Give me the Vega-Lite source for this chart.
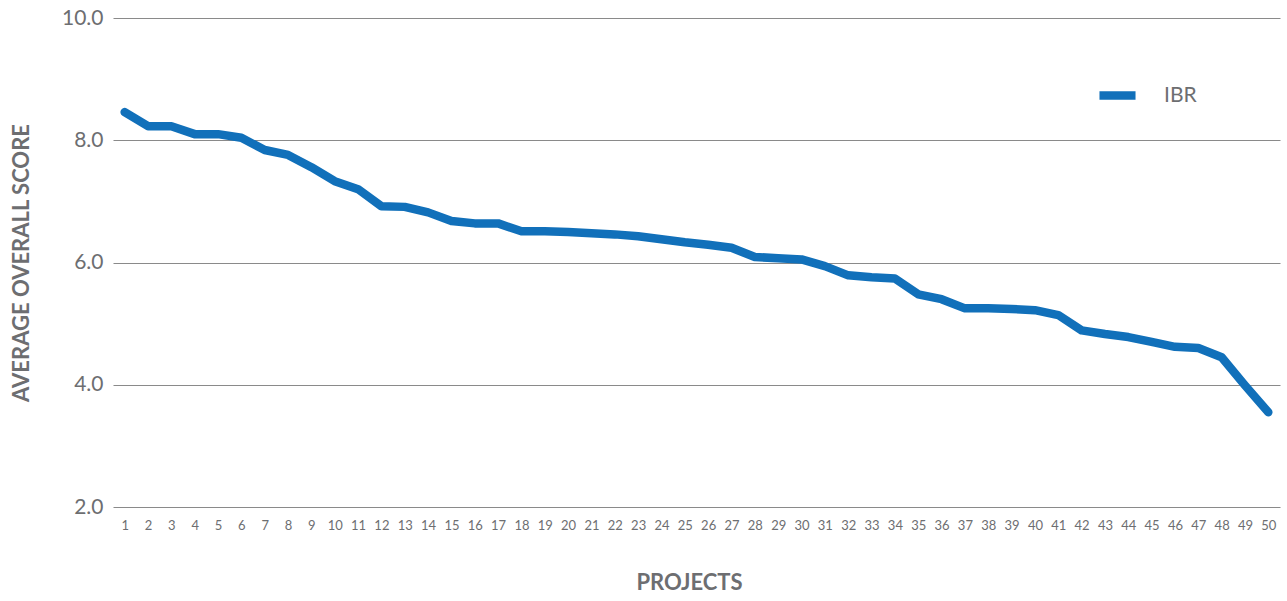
{
  "$schema": "https://vega.github.io/schema/vega-lite/v6.json",
  "width": 1167,
  "height": 489,
  "autosize": {"type": "none"},
  "padding": {"left": 113, "top": 18, "right": 7, "bottom": 94},
  "background": "white",
  "config": {"view": {"stroke": null}, "font": "Lato"},
  "data": {"values": [
    {"project": 1, "score": 8.46, "series": "IBR"},
    {"project": 2, "score": 8.23, "series": "IBR"},
    {"project": 3, "score": 8.23, "series": "IBR"},
    {"project": 4, "score": 8.10, "series": "IBR"},
    {"project": 5, "score": 8.10, "series": "IBR"},
    {"project": 6, "score": 8.04, "series": "IBR"},
    {"project": 7, "score": 7.84, "series": "IBR"},
    {"project": 8, "score": 7.76, "series": "IBR"},
    {"project": 9, "score": 7.56, "series": "IBR"},
    {"project": 10, "score": 7.33, "series": "IBR"},
    {"project": 11, "score": 7.20, "series": "IBR"},
    {"project": 12, "score": 6.92, "series": "IBR"},
    {"project": 13, "score": 6.91, "series": "IBR"},
    {"project": 14, "score": 6.82, "series": "IBR"},
    {"project": 15, "score": 6.68, "series": "IBR"},
    {"project": 16, "score": 6.64, "series": "IBR"},
    {"project": 17, "score": 6.64, "series": "IBR"},
    {"project": 18, "score": 6.51, "series": "IBR"},
    {"project": 19, "score": 6.51, "series": "IBR"},
    {"project": 20, "score": 6.50, "series": "IBR"},
    {"project": 21, "score": 6.48, "series": "IBR"},
    {"project": 22, "score": 6.46, "series": "IBR"},
    {"project": 23, "score": 6.43, "series": "IBR"},
    {"project": 24, "score": 6.38, "series": "IBR"},
    {"project": 25, "score": 6.33, "series": "IBR"},
    {"project": 26, "score": 6.29, "series": "IBR"},
    {"project": 27, "score": 6.24, "series": "IBR"},
    {"project": 28, "score": 6.09, "series": "IBR"},
    {"project": 29, "score": 6.07, "series": "IBR"},
    {"project": 30, "score": 6.05, "series": "IBR"},
    {"project": 31, "score": 5.94, "series": "IBR"},
    {"project": 32, "score": 5.79, "series": "IBR"},
    {"project": 33, "score": 5.76, "series": "IBR"},
    {"project": 34, "score": 5.74, "series": "IBR"},
    {"project": 35, "score": 5.48, "series": "IBR"},
    {"project": 36, "score": 5.40, "series": "IBR"},
    {"project": 37, "score": 5.25, "series": "IBR"},
    {"project": 38, "score": 5.25, "series": "IBR"},
    {"project": 39, "score": 5.24, "series": "IBR"},
    {"project": 40, "score": 5.22, "series": "IBR"},
    {"project": 41, "score": 5.14, "series": "IBR"},
    {"project": 42, "score": 4.89, "series": "IBR"},
    {"project": 43, "score": 4.83, "series": "IBR"},
    {"project": 44, "score": 4.78, "series": "IBR"},
    {"project": 45, "score": 4.70, "series": "IBR"},
    {"project": 46, "score": 4.62, "series": "IBR"},
    {"project": 47, "score": 4.60, "series": "IBR"},
    {"project": 48, "score": 4.45, "series": "IBR"},
    {"project": 49, "score": 3.99, "series": "IBR"},
    {"project": 50, "score": 3.55, "series": "IBR"}
  ]},
  "mark": {"type": "line", "strokeWidth": 8.5, "strokeCap": "round", "strokeJoin": "round"},
  "encoding": {
    "x": {
      "field": "project", "type": "ordinal",
      "scale": {"type": "point", "padding": 0.5},
      "axis": {
        "title": "PROJECTS", "titleFont": "Lato", "titleFontSize": 22, "titleFontWeight": "bold",
        "titleColor": "#6d6e71", "titlePadding": 40, "titleX": 576,
        "labelAngle": 0, "labelFontSize": 13, "labelColor": "#6d6e71", "labelFont": "Lato",
        "labelPadding": 12, "ticks": false, "domain": false, "grid": false
      }
    },
    "y": {
      "field": "score", "type": "quantitative",
      "scale": {"domain": [2, 10], "nice": false, "zero": false},
      "axis": {
        "title": "AVERAGE OVERALL SCORE", "titleFont": "Lato", "titleFontSize": 22, "titleFontWeight": "bold",
        "titleColor": "#6d6e71", "titlePadding": 28,
        "values": [2, 4, 6, 8, 10], "format": ".1f",
        "labelFontSize": 21, "labelColor": "#6d6e71", "labelFont": "Lato", "labelPadding": 10,
        "ticks": false, "domain": false, "grid": true, "gridColor": "#8a8a8a", "gridWidth": 1.2
      }
    },
    "color": {
      "field": "series", "type": "nominal",
      "scale": {"range": ["#1170ba"]},
      "legend": {
        "title": null, "orient": "none", "legendX": 982, "legendY": 55,
        "symbolType": "stroke", "symbolSize": 1300, "symbolStrokeWidth": 8.5,
        "labelFontSize": 21, "labelColor": "#6d6e71", "labelFont": "Lato", "labelOffset": 24
      }
    }
  }
}
